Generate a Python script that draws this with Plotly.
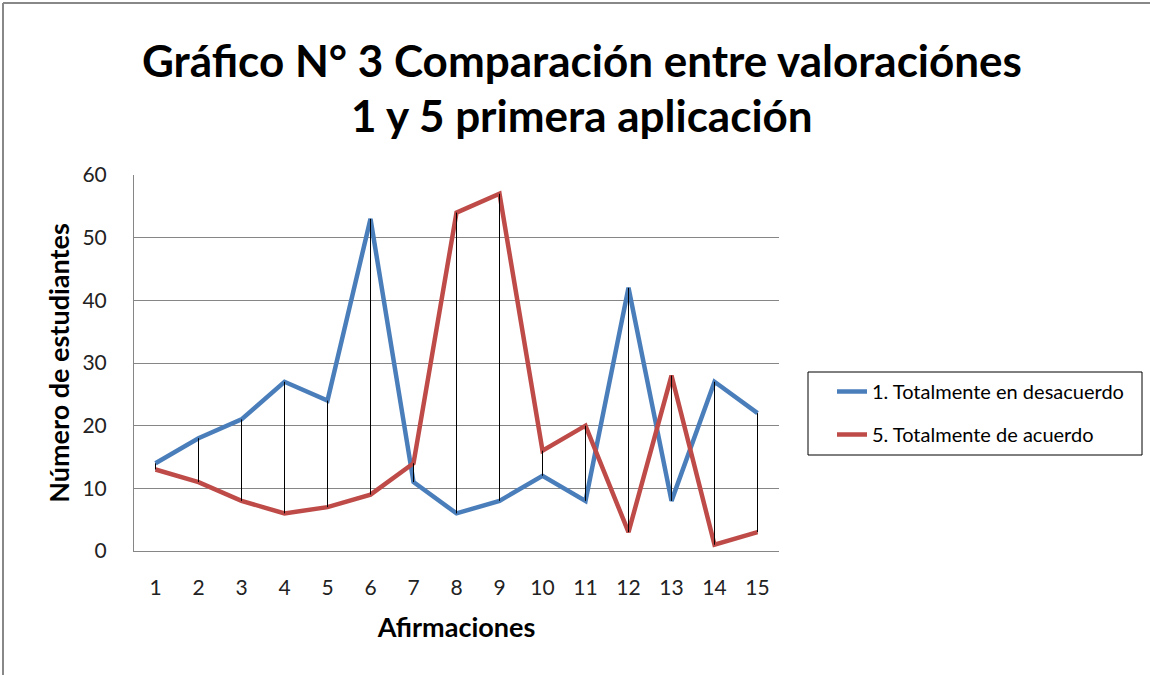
import plotly.graph_objects as go

categories = [str(i) for i in range(1, 16)]
totalmente_desacuerdo = [14, 18, 21, 27, 24, 53, 11, 6, 8, 12, 8, 42, 8, 27, 22]
totalmente_acuerdo = [13, 11, 8, 6, 7, 9, 14, 54, 57, 16, 20, 3, 28, 1, 3]
y_ticks = [0, 10, 20, 30, 40, 50, 60]

W, H = 1150, 675
L, R, T, B = 134, 1150 - 779, 175, 675 - 551
PW, PH = W - L - R, H - T - B

def px(x):
    return (x - L) / PW

def py(y):
    return (H - B - y) / PH

FONT = "Lato"
BLUE = "#4A7EBB"
RED = "#BE4B48"

fig = go.Figure()
fig.add_trace(go.Scatter(x=categories, y=totalmente_desacuerdo, mode="lines",
                         name="1. Totalmente en desacuerdo", legendgroup="a",
                         line=dict(color=BLUE, width=4.5)))
fig.add_trace(go.Scatter(x=categories, y=totalmente_acuerdo, mode="lines",
                         name="5. Totalmente de acuerdo", legendgroup="b",
                         line=dict(color=RED, width=4.5)))

# high-low (drop) lines between the two series
dx, dy = [], []
for c, a, b in zip(categories, totalmente_desacuerdo, totalmente_acuerdo):
    dx += [c, c, None]
    dy += [a, b, None]
fig.add_trace(go.Scatter(x=dx, y=dy, mode="lines", showlegend=False,
                         line=dict(color="black", width=1), hoverinfo="skip"))

fig.update_layout(
    width=W, height=H,
    margin=dict(l=L, r=R, t=T, b=B, autoexpand=False),
    paper_bgcolor="white", plot_bgcolor="white",
    font=dict(family=FONT, color="#000000"),
    legend=dict(x=px(832), y=py(372), xanchor="left", yanchor="top",
                borderwidth=0, font=dict(size=20, family=FONT),
                tracegroupgap=14, traceorder="grouped", bgcolor="rgba(0,0,0,0)"),
    xaxis=dict(type="category", range=[-0.5, 14.5], showgrid=False,
               showline=True, linecolor="#868686", linewidth=1,
               ticks="", tickfont=dict(size=21, family=FONT, color="#222"),
               ticklabelstandoff=18,
               title=dict(text="<b>Afirmaciones</b>", font=dict(size=27, family=FONT),
                          standoff=19)),
    yaxis=dict(range=[0, 60], tickvals=y_ticks, showgrid=True, gridcolor="#868686",
               gridwidth=1, showline=True, linecolor="#868686", linewidth=1,
               ticks="", tickfont=dict(size=21, family=FONT, color="#222"),
               ticklabelstandoff=22, zeroline=False,
               title=dict(text="<b>Número de estudiantes</b>",
                          font=dict(size=27, family=FONT), standoff=4)),
    annotations=[
        dict(text="<b>Gráfico N° 3 Comparación entre valoraciónes</b>",
             x=px(582), y=py(60), xref="paper", yref="paper", showarrow=False,
             xanchor="center", yanchor="middle", font=dict(size=44, family=FONT)),
        dict(text="<b>1 y 5 primera aplicación</b>",
             x=px(582), y=py(115), xref="paper", yref="paper", showarrow=False,
             xanchor="center", yanchor="middle", font=dict(size=44, family=FONT)),
    ],
    shapes=[
        dict(type="line", xref="paper", yref="paper", x0=px(3), x1=px(1150), y0=py(3), y1=py(3),
             line=dict(color="#888888", width=2)),
        dict(type="line", xref="paper", yref="paper", x0=px(3), x1=px(3), y0=py(3), y1=py(675),
             line=dict(color="#888888", width=2)),
        dict(type="rect", xref="paper", yref="paper", x0=px(808), x1=px(1142),
             y0=py(372), y1=py(455), line=dict(color="black", width=1),
             fillcolor="rgba(0,0,0,0)"),
    ],
)

fig.write_html("out.html", config={"displayModeBar": False},
               post_script="document.body.style.margin='0';document.body.style.overflow='hidden';")
